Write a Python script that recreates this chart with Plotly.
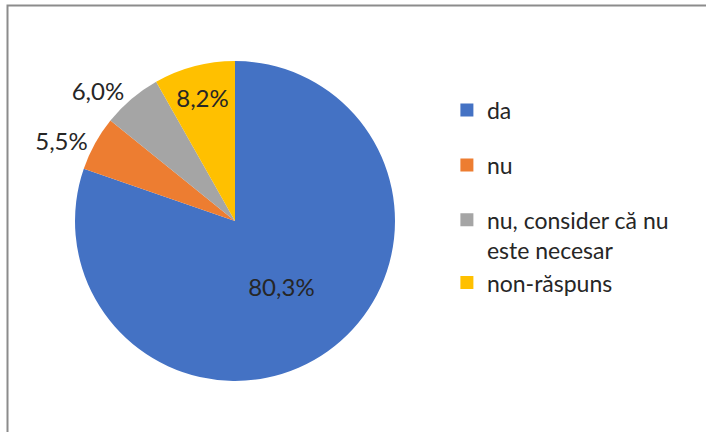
import plotly.graph_objects as go

labels = ["da", "nu", "nu, consider că nu<br>este necesar", "non-răspuns"]
values = [80.3, 5.5, 6.0, 8.2]
colors = ["#4472C4", "#ED7D31", "#A5A5A5", "#FFC000"]
text_pos = ["inside", "outside", "outside", "inside"]
legend_groups = ["g1", "g2", "g3", "g3"]

W, H = 706, 432
_FONT = "Lato, Open Sans, sans-serif"

fig = go.Figure()
fig.add_trace(go.Pie(
    labels=labels, values=values, sort=False, direction="clockwise", rotation=0,
    marker=dict(colors=colors, line=dict(width=0)),
    textposition=text_pos, texttemplate="%{value:.1f}%",
    textfont=dict(size=24, color="#262626", family=_FONT),
    insidetextorientation="horizontal",
    showlegend=False, hoverinfo="label+value",
    domain=dict(x=[(235 - 160) / W, (235 + 160) / W], y=[51 / H, 371 / H]),
))

# legend entries (square swatches), grouped so spacing matches the original
for lab, col, grp in zip(labels, colors, legend_groups):
    fig.add_trace(go.Scatter(
        x=[None], y=[None], mode="markers", name=lab, legendgroup=grp,
        marker=dict(symbol="square", size=13, color=col),
    ))

fig.update_layout(
    width=W, height=H, separators=", ",
    margin=dict(l=0, r=0, t=0, b=0),
    paper_bgcolor="white", plot_bgcolor="white",
    font=dict(family=_FONT, color="#262626", size=23),
    legend=dict(x=0.633, y=0.795, xanchor="left", yanchor="top",
                traceorder="grouped", tracegroupgap=22, valign="top",
                itemwidth=30, font=dict(size=23), bgcolor="rgba(0,0,0,0)"),
    xaxis=dict(visible=False), yaxis=dict(visible=False),
    shapes=[dict(type="rect", xref="paper", yref="paper",
                 x0=7.5 / W, x1=1.2, y0=-0.2, y1=1 - 5.5 / H,
                 line=dict(color="#8c8c8c", width=2))],
)

fig.write_html("out.html", config={"displayModeBar": False},
               post_script="document.body.style.margin='0';")
